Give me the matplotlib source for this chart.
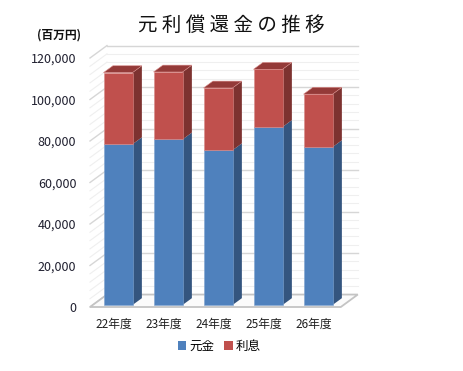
import matplotlib

matplotlib.use("Agg")
import matplotlib.pyplot as plt
from matplotlib.patches import Patch

plt.rcParams["font.family"] = ["Noto Sans CJK JP", "DejaVu Sans"]

# 元利償還金 (百万円)
years = ["22年度", "23年度", "24年度", "25年度", "26年度"]
principal = [77500, 79800, 74600, 85800, 76100]   # 元金
interest = [34500, 32500, 30000, 27800, 25500]    # 利息
yticks = [0, 20000, 40000, 60000, 80000, 100000, 120000]

BLUE, BLUE_SIDE = "#4f81bd", "#34557f"
RED, RED_SIDE, RED_TOP = "#c0504d", "#7d3230", "#943a38"

# pseudo 3d: screen offset of one unit of depth, in data units
DX, DY = 0.34, 6000
D0, BD = 0.16, 0.55      # bar front depth, bar depth
W = 0.58
XL, XR = -0.506, 4.51    # floor front edge

W_PX, H_PX = 464, 371
fig = plt.figure(figsize=(W_PX / 100, H_PX / 100), dpi=100)

# place axes so that x: 50px per category, y: 2.075px per 1000
xlim = (-0.6, 4.95)
ylim = (-3000, 127000)
x0_px, y0_px = 115.3, 307  # data origin in pixels (from top)
left = x0_px + 50 * xlim[0]
right = x0_px + 50 * xlim[1]
top = y0_px - 2.075 * ylim[1] / 1000
bottom = y0_px - 2.075 * ylim[0] / 1000
ax = fig.add_axes([left / W_PX, 1 - bottom / H_PX, (right - left) / W_PX, (bottom - top) / H_PX])
ax.set_xlim(*xlim)
ax.set_ylim(*ylim)
for s in ax.spines.values():
    s.set_visible(False)

# floor
ax.fill([XL, XR, XR + DX, XL + DX], [0, 0, DY, DY], facecolor="#fbfbfb",
        edgecolor="#c4c4c4", linewidth=1.3, zorder=1)

# gridlines on side wall and back wall
for v in range(0, 120001, 4000):
    major = v % 20000 == 0
    c = "#d6d6d6" if major else "#efefef"
    lw = 1.0 if major else 0.8
    z = 0.6 if major else 0.5
    ax.plot([XL, XL + DX], [v, v + DY], color=c, lw=lw, zorder=z)
    if v > 0:
        ax.plot([XL + DX, XR + DX], [v + DY, v + DY], color=c, lw=lw, zorder=z)

xs = [i + D0 * DX for i in range(len(years))]
y0 = D0 * DY
totals = [p + q for p, q in zip(principal, interest)]

ax.bar(xs, principal, width=W, bottom=y0, color=BLUE, edgecolor="#7fa3d0", linewidth=0.4, zorder=3)
ax.bar(xs, interest, width=W, bottom=[p + y0 for p in principal], color=RED,
       edgecolor="#d98b89", linewidth=0.4, zorder=3)

for x, p, t in zip(xs, principal, totals):
    xr = x + W / 2
    xl = x - W / 2
    ox, oy = BD * DX, BD * DY
    # side faces
    ax.fill([xr, xr + ox, xr + ox, xr], [y0, y0 + oy, p + y0 + oy, p + y0],
            color=BLUE_SIDE, lw=0, zorder=2)
    ax.fill([xr, xr + ox, xr + ox, xr], [p + y0, p + y0 + oy, t + y0 + oy, t + y0],
            color=RED_SIDE, lw=0, zorder=2)
    # top face
    ax.fill([xl, xr, xr + ox, xl + ox], [t + y0, t + y0, t + y0 + oy, t + y0 + oy],
            facecolor=RED_TOP, edgecolor="#d98b89", lw=0.4, zorder=2.5)

ax.set_yticks(yticks)
ax.set_yticklabels([f"{v:,}" for v in yticks], fontsize=9, color="#202030")
ax.tick_params(axis="y", length=0, pad=6.5)
ax.set_xticks([i - 0.03 for i in range(len(years))])
ax.set_xticklabels(years, fontsize=8.5, color="#202020")
ax.tick_params(axis="x", length=0, pad=3)

fig.text(231 / W_PX, 1 - 25 / H_PX, " ".join("元利償還金の推移"), fontsize=14,
         ha="center", va="center", color="#111111")
fig.text(37 / W_PX, 1 - 35 / H_PX, "(百万円)", fontsize=8.5, fontweight="bold",
         ha="left", va="center", color="#111111")

handles = [Patch(facecolor=BLUE, label="元金"), Patch(facecolor=RED, label="利息")]
fig.legend(handles=handles, loc="center", bbox_to_anchor=(219 / W_PX, 1 - 346 / H_PX),
           ncol=2, frameon=False, fontsize=9, handlelength=0.7, handleheight=0.7,
           handletextpad=0.2, columnspacing=0.8, borderpad=0)

fig.savefig("out.png", dpi=100, facecolor="white")
